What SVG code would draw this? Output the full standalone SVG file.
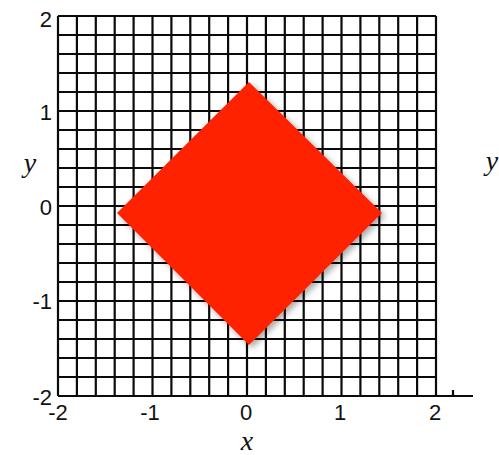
<svg xmlns="http://www.w3.org/2000/svg" width="499" height="455" viewBox="0 0 499 455">
  <style>
    .grid { stroke: #0a0a0a; stroke-width: 2.2; fill: none; }
    .tick { font-family: "Liberation Sans", Arial, sans-serif; font-size: 22px; fill: #111; }
    .var { font-family: "Liberation Serif", "Times New Roman", serif; font-style: italic; font-size: 28px; fill: #111; }
  </style>
  <defs>
    <filter id="shadow" x="-20%" y="-20%" width="140%" height="140%">
      <feDropShadow dx="3" dy="3" stdDeviation="3" flood-color="#000" flood-opacity="0.35"/>
    </filter>
  </defs>
  <rect width="499" height="455" fill="#fff"/>
  <g id="grid" class="grid">
    <path d="M58 16V396M76.9 16V396M95.8 16V396M114.7 16V396M133.6 16V396M152.5 16V396M171.4 16V396M190.3 16V396M209.2 16V396M228.1 16V396M247 16V396M265.9 16V396M284.8 16V396M303.7 16V396M322.6 16V396M341.5 16V396M360.4 16V396M379.3 16V396M398.2 16V396M417.1 16V396M436 16V396"/>
    <path d="M58 16H436M58 35H436M58 54H436M58 73H436M58 92H436M58 111H436M58 130H436M58 149H436M58 168H436M58 187H436M58 206H436M58 225H436M58 244H436M58 263H436M58 282H436M58 301H436M58 320H436M58 339H436M58 358H436M58 377H436M58 396H436"/>
    <path d="M436 396H473M453 390V396"/>
  </g>
  <g id="diamond">
    <polygon points="249,82 382,213 249,345 117,213" fill="#ff2200" filter="url(#shadow)"/>
  </g>
  <g id="y-ticks" class="tick" text-anchor="end">
    <text x="52" y="27">2</text>
    <text x="52" y="120">1</text>
    <text x="52" y="215">0</text>
    <text x="52" y="309">-1</text>
    <text x="52" y="405">-2</text>
  </g>
  <g id="x-ticks" class="tick" text-anchor="middle">
    <text x="58" y="420">-2</text>
    <text x="150" y="420">-1</text>
    <text x="246" y="420">0</text>
    <text x="340" y="420">1</text>
    <text x="435" y="420">2</text>
  </g>
  <g id="labels" class="var" text-anchor="middle">
    <text x="30" y="172">y</text>
    <text x="492" y="170">y</text>
    <text x="247" y="450">x</text>
  </g>
</svg>
